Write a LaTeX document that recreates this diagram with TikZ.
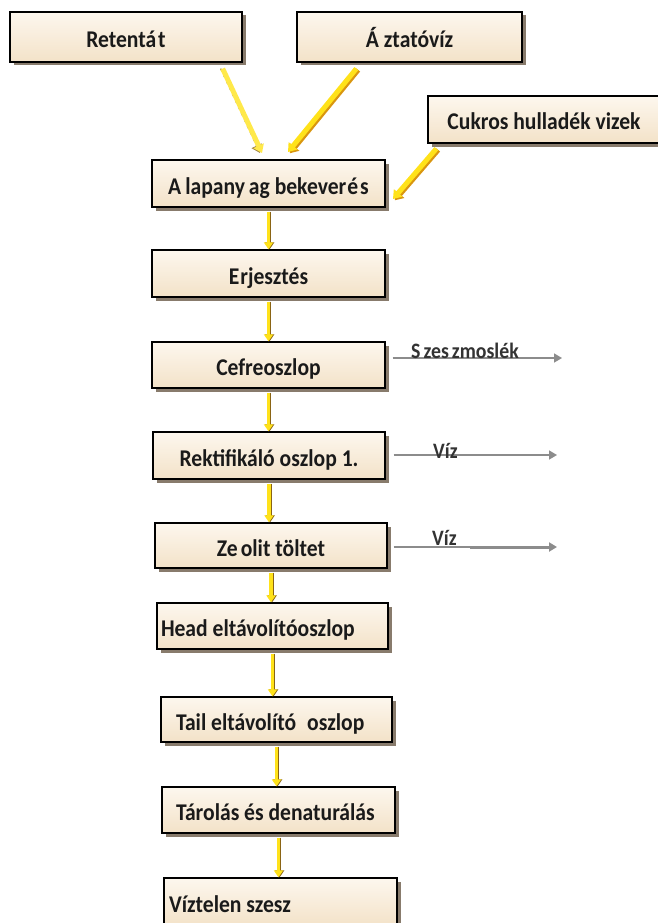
\documentclass[tikz,border=0pt]{standalone}
\usepackage{fontspec}
\setmainfont{Carlito}[FakeStretch=0.9]
\usetikzlibrary{arrows.meta,shadows,calc}

\definecolor{boxtop}{HTML}{FDF7EE}
\definecolor{boxbot}{HTML}{F3E2C8}
\definecolor{shade}{HTML}{6B5A48}
\definecolor{feedY}{HTML}{FFE21A}
\definecolor{feedP}{HTML}{FFE94A}
\definecolor{feedO}{HTML}{D9960F}
\definecolor{feedD}{HTML}{8A6414}
\definecolor{outG}{HTML}{8C8C8C}
\definecolor{txt}{HTML}{1A1A1A}
\definecolor{lbltxt}{HTML}{333333}

\tikzset{
  stepbox/.style={draw=black, line width=1.3pt, top color=boxtop, bottom color=boxbot,
    minimum height=47pt, inner sep=0pt, text=txt, text height=23pt, text depth=2pt,
    font=\fontsize{24}{27}\selectfont\bfseries,
    drop shadow={shadow xshift=3.5pt, shadow yshift=-3.5pt, fill=shade, opacity=0.8}},
  feed/.style={draw=feedY, line width=5pt, -{Triangle[width=11pt,length=8pt]},
    preaction={draw=feedO, line width=5pt, -{Triangle[width=11pt,length=8pt]},
      transform canvas={shift={(1.8pt,-1.3pt)}}}},
  feedpale/.style={draw=feedP, line width=5pt, -{Triangle[width=11pt,length=8pt]},
    preaction={draw=feedD!80, line width=1.3pt, dash pattern=on 3pt off 4pt,
      transform canvas={shift={(-2pt,0pt)}}}},
  feeddown/.style={draw=feedY, line width=3.2pt, -{Triangle[width=9pt,length=7pt]},
    preaction={draw=feedD, line width=3.2pt, -{Triangle[width=9pt,length=7pt]},
      transform canvas={shift={(1.1pt,0pt)}}}},
  outflow/.style={draw=outG, line width=1.6pt, -{Triangle[width=9pt,length=8pt]}},
  lbl/.style={inner sep=0pt, text=lbltxt, font=\fontsize{22}{24}\selectfont\bfseries},
}
% left-set text inside a box of fixed inner width
\newcommand{\lefttext}[2]{\makebox[#1][l]{#2}}

\begin{document}
\begin{tikzpicture}[x=1pt,y=-1pt]
  \fill[white] (0,0) rectangle (657,923);
  \useasboundingbox (0,0) rectangle (657,923);

  % input streams
  \node[stepbox, minimum width=232pt, minimum height=50pt] (ret) at (126,37) {Retentá\kern2pt t};
  \node[stepbox, minimum width=225pt, minimum height=50pt] (azt) at (409.5,37) {Á\kern5pt ztatóvíz};
  \node[stepbox, minimum width=232pt] (cuk) at (544,119.5) {Cukros hulladék vizek};

  % main process column
  \node[stepbox, minimum width=233pt] (ala) at (268.5,183.5) {A\kern4pt lapany\kern4pt ag bekever\kern1pt é\kern2pt s};
  \node[stepbox, minimum width=233pt] (erj) at (268.5,273.5) {E\kern1pt rjesztés};
  \node[stepbox, minimum width=233pt, minimum height=46pt] (cef) at (268.5,365) {Cefreoszlop};
  \node[stepbox, minimum width=232pt] (rek) at (269,455.5) {Rektifikáló oszlop 1.};
  \node[stepbox, minimum width=232pt, minimum height=45pt] (zeo) at (271,545.5) {Ze\kern3pt olit töltet};
  \node[stepbox, minimum width=231pt, minimum height=46pt] (head) at (272.5,626) {\lefttext{223pt}{Head eltávolítóoszlop}};
  \node[stepbox, minimum width=231pt, minimum height=45pt] (tail) at (276.5,719.5) {\lefttext{223pt}{\hspace*{11pt}Tail eltávolító\hspace{11pt}oszlop}};
  \node[stepbox, minimum width=233pt, minimum height=46pt] (tar) at (278.5,810) {\lefttext{223pt}{\hspace*{9pt}Tárolás és denaturálás}};
  \node[stepbox, minimum width=233pt, minimum height=48pt] (viz) at (280.5,902) {\lefttext{223pt}{Víztelen szesz}};

  % feeds into the mixing step
  \coordinate (retEnd) at (262,153);
  \coordinate (aztEnd) at (288,152);
  \coordinate (cukEnd) at (393,199);
  \draw[feedpale] ($(ret.south east)+(-20,6)$) -- (retEnd);
  \draw[feed] ($(azt.south west)+(60,6)$) -- (aztEnd);
  \draw[feed] ($(cuk.south west)+(9,5)$) -- (cukEnd);

  % flow down the column
  \foreach \a/\b in {ala/erj, erj/cef, cef/rek, rek/zeo, zeo/head, head/tail, tail/tar, tar/viz}
    \draw[feeddown] ([yshift=-4pt]\a.south) -- (\a.south |- \b.north);

  % side streams leaving the column
  \coordinate (szEnd) at (562,358);
  \coordinate (v1End) at (557,455);
  \coordinate (v2Mid) at (470,547);
  \coordinate (v2End) at (557,547);
  \draw[outflow] (cef.east |- szEnd) ++(7,0) -- (szEnd);
  \draw[outflow] (rek.east |- v1End) ++(8,0) -- (v1End);
  \draw[outflow, -] (zeo.east |- v2End) ++(6,0) -- (v2Mid);
  \draw[outflow, line width=3pt] (v2Mid) -- (v2End);

  \node[lbl, anchor=base west] (szl) at (411,358) {S\kern3pt zes\kern3pt zmoslék};
  \node[lbl, anchor=base west] (v1l) at (433,458) {Víz};
  \node[lbl, anchor=base west] (v2l) at (432,545) {Víz};
\end{tikzpicture}
\end{document}
